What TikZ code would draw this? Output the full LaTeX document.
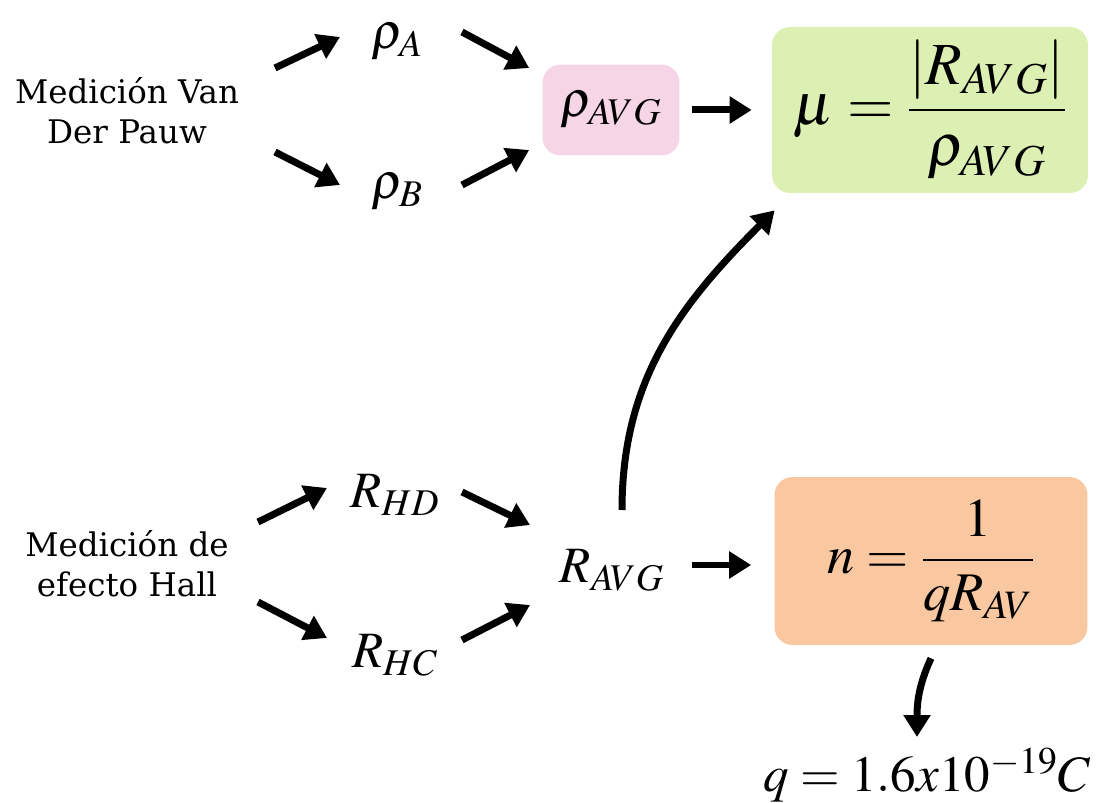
\documentclass[tikz,border=0pt]{standalone}
\usepackage{amsmath}
\usepackage{mathptmx}
\usepackage{fontspec}
\setmainfont{Liberation Serif}
\newfontfamily\slabfont{DejaVu Serif}
\usetikzlibrary{arrows.meta, positioning, calc}
\definecolor{CPink}{HTML}{F6D6E6}
\definecolor{CGreen}{HTML}{DDF0B3}
\definecolor{COrange}{HTML}{F9C8A1}

\begin{document}
\begin{tikzpicture}[
    x=0.02cm, y=-0.02cm,
    source/.style={align=center, font=\slabfont\fontsize{18.5}{23}\selectfont},
    quantity/.style={inner sep=0pt, font=\fontsize{29}{34}\selectfont},
    result/.style={rectangle, rounded corners=0.36cm, inner sep=0pt, font=\fontsize{29}{34}\selectfont},
    arrow/.style={-{Triangle[length=0.44cm, width=0.52cm]}, line width=0.14cm}
]
\useasboundingbox (0,0) rectangle (1102,803);

% Van der Pauw branch
\node[source] (vdp) at (127,111) {Medición Van\\Der Pauw};
\node[quantity] (rhoA) at (397,42) {$\rho_A$};
\node[quantity] (rhoB) at (397,192) {$\rho_B$};
\node[result, fill=CPink, minimum width=2.74cm, minimum height=1.82cm] (rhoavg) at (611,110) {$\rho_{AVG}$};
\node[result, fill=CGreen, minimum width=6.32cm, minimum height=3.32cm, font=\fontsize{34}{40}\selectfont] (mu) at (930,110) {$\mu = \dfrac{|R_{AVG}|}{\rho_{AVG}}$};

\draw[arrow] ($(vdp)+(148,-43)$) -- ($(rhoA)+(-57,-5)$);
\draw[arrow] ($(vdp)+(148,41)$) -- ($(rhoB)+(-57,-7)$);
\draw[arrow] ($(rhoA)+(65,-10)$) -- ($(rhoavg.west)+(-13,-42)$);
\draw[arrow] ($(rhoB)+(65,-7)$) -- ($(rhoavg.west)+(-13,40)$);
\draw[arrow] ($(rhoavg.east)+(12,0)$) -- ($(mu.west)+(-20,0)$);

% Hall branch
\node[source] (hall) at (127,564) {Medición de\\efecto Hall};
\node[quantity] (RHD) at (395,495) {$R_{HD}$};
\node[quantity] (RHC) at (395,655) {$R_{HC}$};
\node[quantity] (Ravg) at (612,570) {$R_{AVG}$};
\node[result, fill=COrange, minimum width=6.26cm, minimum height=3.36cm, font=\fontsize{31}{37}\selectfont] (n) at (931,561) {$n = \dfrac{1}{qR_{AV}}$};
\node[quantity] (q) at (927,775) {$q = 1.6x10^{-19}C$};

\draw[arrow] ($(hall)+(131,-42)$) -- ($(RHD)+(-68,-7)$);
\draw[arrow] ($(hall)+(131,38)$) -- ($(RHC)+(-68,-17)$);
\draw[arrow] ($(RHD)+(67,-3)$) -- ($(Ravg)+(-82,-45)$);
\draw[arrow] ($(RHC)+(67,-15)$) -- ($(Ravg)+(-82,35)$);
\draw[arrow] ($(Ravg)+(80,-5)$) -- ($(n.west)+(-23,4)$);

% Curved links
\draw[arrow] ($(Ravg)+(10,-60)$) to[out=90, in=225] ($(mu.south west)+(3,17)$);
\draw[arrow] ($(n.south)+(0,13)$) to[out=245, in=90] ($(q)+(-10,-38)$);
\end{tikzpicture}
\end{document}
